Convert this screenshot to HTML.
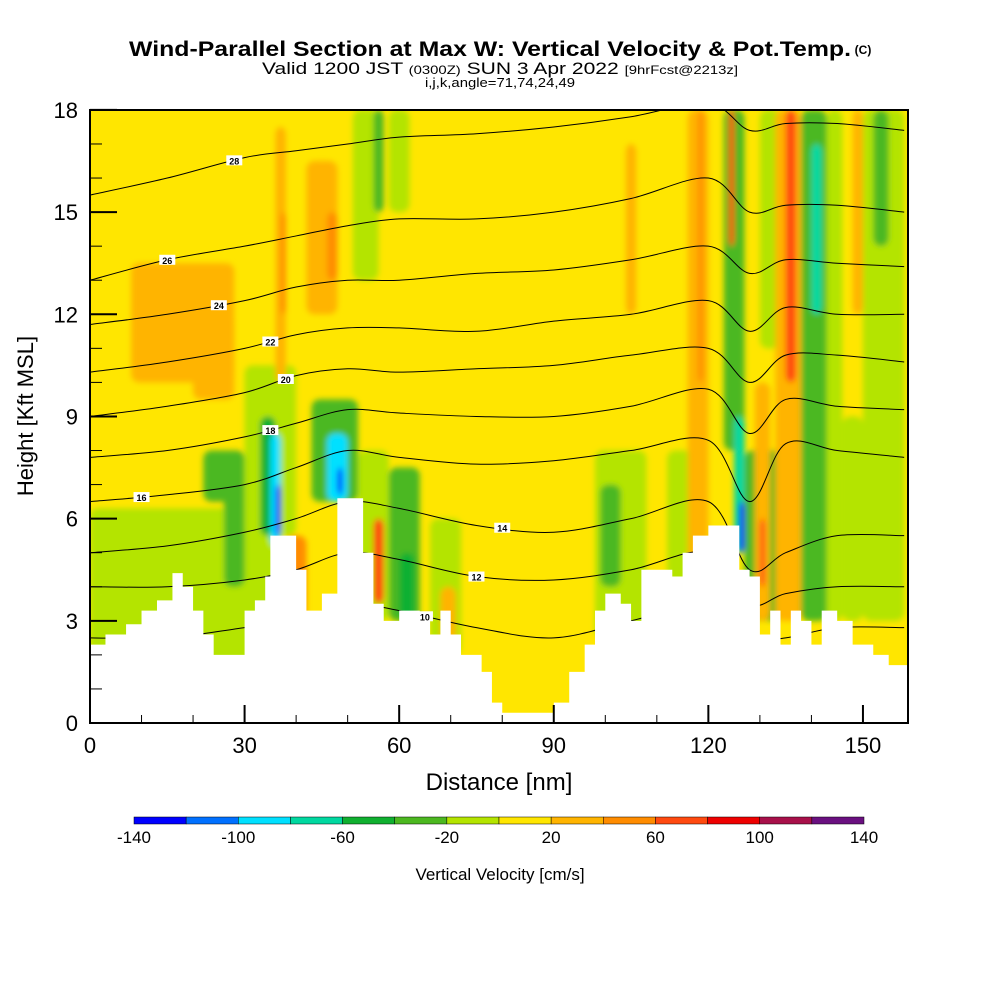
<!DOCTYPE html>
<html><head><meta charset="utf-8"><style>
body{margin:0;background:#fff;}
svg{display:block;font-family:"Liberation Sans",sans-serif;}
</style></head><body>
<svg id="chart" width="1000" height="1000" viewBox="0 0 1000 1000">
<defs>
<filter id="blur" x="-20%" y="-20%" width="140%" height="140%"><feGaussianBlur stdDeviation="3"/></filter>
<clipPath id="plotclip"><rect x="90" y="110" width="818" height="613"/></clipPath>
</defs>
<text x="490" y="56" text-anchor="middle" font-size="21" font-weight="bold" textLength="722" lengthAdjust="spacingAndGlyphs">Wind-Parallel Section at Max W: Vertical Velocity &amp; Pot.Temp.</text>
<text x="863" y="54" text-anchor="middle" font-size="12" font-weight="bold">(C)</text>
<text x="500" y="74" text-anchor="middle" font-size="17" textLength="476" lengthAdjust="spacingAndGlyphs">Valid 1200 JST <tspan font-size="12">(0300Z)</tspan> SUN 3 Apr 2022 <tspan font-size="12">[9hrFcst@2213z]</tspan></text>
<text x="500" y="87" text-anchor="middle" font-size="13" textLength="150" lengthAdjust="spacingAndGlyphs">i,j,k,angle=71,74,24,49</text>
<g id="plot" clip-path="url(#plotclip)">
<rect x="90" y="110" width="818" height="613" fill="#ffe600"/>
<g id="patches" filter="url(#blur)"></g>
<g id="contours"></g>
</g>
<rect x="90" y="110" width="818" height="613" fill="none" stroke="#000" stroke-width="2"/>
<g id="axes"></g>
<text transform="translate(33,416) rotate(-90)" text-anchor="middle" font-size="22">Height [Kft MSL]</text>
<text x="499" y="790" text-anchor="middle" font-size="24">Distance [nm]</text>
<g id="colorbar"></g>
<text x="500" y="880" text-anchor="middle" font-size="17">Vertical Velocity [cm/s]</text>
</svg>
<script>
const NS="http://www.w3.org/2000/svg";
// data
const terrainDist=[0,3,7,10,13,16,18,20,22,24,28,30,32,34,35,38,40,42,45,48,51,53,55,57,60,64,66,68,70,72,76,78,80,84,88,90,93,96,98,100,103,105,107,111,113,115,117,120,124,126,128,130,132,134,136,138,140,142,145,148,152,155,159];
const terrainHeight=[2.3,2.6,2.9,3.3,3.6,4.4,4.0,3.3,2.6,2.0,2.0,3.3,3.6,4.3,5.5,5.5,4.5,3.3,3.8,6.6,6.6,5.0,3.5,3.0,3.3,3.0,2.6,3.3,2.6,2.0,1.5,0.6,0.3,0.3,0.3,0.6,1.5,2.3,3.3,3.8,3.5,3.0,4.5,4.5,4.3,5.0,5.5,5.8,5.8,4.5,4.3,2.6,3.3,2.3,3.3,3.0,2.3,3.3,3.0,2.3,2.0,1.7,1.7];
// velocity patches: [dist0, dist1, height0, height1, w cm/s]
const velocityPatches=[
[0,36,0,6.3,-10],[8,28,10,13.5,30],[20,28,9.5,12,30],[22,30,6.5,8,-30],[26,30,4,7.5,-30],[30,40,5.5,10.5,-10],
[33,36,5.5,9,-50],[35,37,5.2,8.5,-90],[36,37,5.5,7,-130],[36,38,10,17.5,30],[37,38,12,15,50],
[42,48,12,16.5,30],[46,48,13,15,50],[38,42,3,5.5,50],[43,52,6.5,9.5,-30],[46,50,6.5,8.5,-90],
[48,49,6.7,7.5,-130],[52,58,3,8,-10],[55,57,3.5,6,70],[58,64,3,7.5,-30],[60,63,3,5,-50],
[51,56,13,18,-10],[55,57,15,18,-30],[58,62,15,18,-10],[66,72,2,6,-10],[68,71,2,4,30],
[98,108,2.5,8,-10],[99,103,4,7,-30],[104,106,12,17,30],[112,118,3,8,-10],[116,120,2,18,30],
[118,119,10,18,50],[123,127,8,18,-30],[124,125,14,18,70],[125,127,5,9,-70],[126,127,5,6.5,-130],
[127,134,3,8,-30],[129,132,3,10,30],[130,131,4,6,70],[130,134,11,18,-10],[133,138,3,18,30],
[135,137,10,18,70],[138,143,3,18,-30],[140,142,12,17,-70],[143,146,3,18,-10],[146,150,3,9,-10],
[150,158,3,18,-10],[148,150,12,18,30],[152,155,14,18,-30]];
const contourDist=[0,15,30,40,50,60,75,90,105,120,128,135,145,158];
const thetaLevels=[10,12,14,16,18,20,22,24,26,28];
const thetaHeights=[
[2.5,2.5,2.8,3.0,3.5,3.3,2.8,2.5,3.0,3.5,2.5,2.5,2.8,2.8],
[4.0,4.0,4.2,4.5,5.0,4.8,4.3,4.2,4.5,5.0,3.5,3.8,4.0,4.0],
[5.0,5.2,5.6,6.0,6.5,6.3,5.8,5.6,6.0,6.5,4.5,5.0,5.5,5.5],
[6.5,6.7,7.0,7.5,8.0,7.8,7.6,7.7,8.0,8.3,6.5,8.2,8.0,7.8],
[7.8,8.0,8.4,8.8,9.2,9.1,9.0,9.0,9.3,9.8,8.5,9.5,9.3,9.2],
[9.0,9.3,9.7,10.2,10.4,10.3,10.4,10.5,10.8,11.0,10.0,10.8,10.8,10.6],
[10.3,10.6,11.0,11.4,11.6,11.6,11.5,11.8,12.0,12.4,11.5,12.2,12.0,12.0],
[11.7,12.0,12.4,12.8,13.0,13.0,13.2,13.3,13.6,14.0,13.2,13.6,13.5,13.4],
[13.0,13.6,14.0,14.3,14.6,14.8,14.8,15.0,15.4,16.0,15.0,15.2,15.2,15.0],
[15.5,16.0,16.6,16.8,17.0,17.2,17.3,17.5,17.8,18.2,17.4,17.6,17.6,17.4]];
const labelDist=[65,75,80,10,35,38,35,25,15,28];
const yTicks=[0,3,6,9,12,15,18];
const xTicks=[0,30,60,90,120,150];
const cbValues=[-140,-120,-100,-80,-60,-40,-20,0,20,40,60,80,100,120,140];
const cbColors=["#0000ff","#0070ff","#00e0ff","#00d8a0","#10b030","#4cb820","#b4e400","#ffe600","#ffb400","#ff8c00","#ff4a10","#ee0000","#a8104a","#6a1080"];
const cbLabels=[-140,-100,-60,-20,20,60,100,140];

const X=d=>90+d*5.153, Y=h=>723-h*34.06;
const colorFor=v=>{let i=Math.floor((v+140)/20);return cbColors[Math.max(0,Math.min(13,i))];};
const mk=(t,a,p)=>{const e=document.createElementNS(NS,t);for(const k in a)e.setAttribute(k,a[k]);p.appendChild(e);return e;};

const pg=document.getElementById('patches');
velocityPatches.forEach(p=>{
 const r=mk('rect',{x:X(p[0]),y:Y(p[3]),width:X(p[1])-X(p[0]),height:Y(p[2])-Y(p[3]),rx:8,fill:colorFor(p[4])},pg);
 
 
});
const cg=document.getElementById('contours');
thetaLevels.forEach((lv,li)=>{
 const pts=contourDist.map((d,i)=>[X(d),Y(thetaHeights[li][i])]);
 let s=`M${pts[0][0]},${pts[0][1]}`;
 for(let i=0;i<pts.length-1;i++){
  const p0=pts[Math.max(0,i-1)],p1=pts[i],p2=pts[i+1],p3=pts[Math.min(pts.length-1,i+2)];
  s+=` C${p1[0]+(p2[0]-p0[0])/6},${p1[1]+(p2[1]-p0[1])/6} ${p2[0]-(p3[0]-p1[0])/6},${p2[1]-(p3[1]-p1[1])/6} ${p2[0]},${p2[1]}`;
 }
 const path=mk('path',{d:s,fill:'none',stroke:'#000','stroke-width':1},cg);
 
 
 const ld=labelDist[li];
 let k=0;while(k<contourDist.length-2&&contourDist[k+1]<ld)k++;
 const f=(ld-contourDist[k])/(contourDist[k+1]-contourDist[k]);
 const lh=thetaHeights[li][k]+(thetaHeights[li][k+1]-thetaHeights[li][k])*f;
 mk('rect',{x:X(ld)-8,y:Y(lh)-5,width:16,height:10,fill:'#fff'},cg);
 const t=mk('text',{x:X(ld),y:Y(lh)+4,'text-anchor':'middle','font-size':9,'font-weight':'bold'},cg);
 t.textContent=lv;
 
 
});
// stepped terrain mask
let tp=`M${X(0)},730 L${X(0)},${Y(terrainHeight[0])}`;
for(let i=1;i<terrainDist.length;i++){tp+=` L${X(terrainDist[i])},${Y(terrainHeight[i-1])} L${X(terrainDist[i])},${Y(terrainHeight[i])}`;}
tp+=` L${X(159)},730 Z`;
const tpath=mk('path',{d:tp,fill:'#fff'},document.getElementById('plot'));


const ag=document.getElementById('axes');
for(let h=0;h<=18;h++){const maj=h%3===0;mk('line',{x1:90,x2:90+(maj?27:12),y1:Y(h),y2:Y(h),stroke:'#000','stroke-width':maj?2:1},ag);}
yTicks.forEach(h=>{const t=mk('text',{x:78,y:Y(h)+8,'text-anchor':'end','font-size':22},ag);t.textContent=h;
 });
for(let d=0;d<=150;d+=10){const maj=d%30===0;mk('line',{x1:X(d),x2:X(d),y1:723,y2:723-(maj?18:8),stroke:'#000','stroke-width':maj?2:1},ag);}
xTicks.forEach(d=>{const t=mk('text',{x:X(d),y:753,'text-anchor':'middle','font-size':22},ag);t.textContent=d;
 });
const cb=document.getElementById('colorbar');
const cbX=v=>134+(v+140)/280*730;
cbColors.forEach((c,i)=>{const r=mk('rect',{x:cbX(cbValues[i]),y:817,width:cbX(cbValues[i+1])-cbX(cbValues[i]),height:7,fill:c,stroke:'#000','stroke-width':0.5},cb);
 });
cbLabels.forEach(v=>{const t=mk('text',{x:cbX(v),y:843,'text-anchor':'middle','font-size':17},cb);t.textContent=v;
 });
</script>
</body></html>
